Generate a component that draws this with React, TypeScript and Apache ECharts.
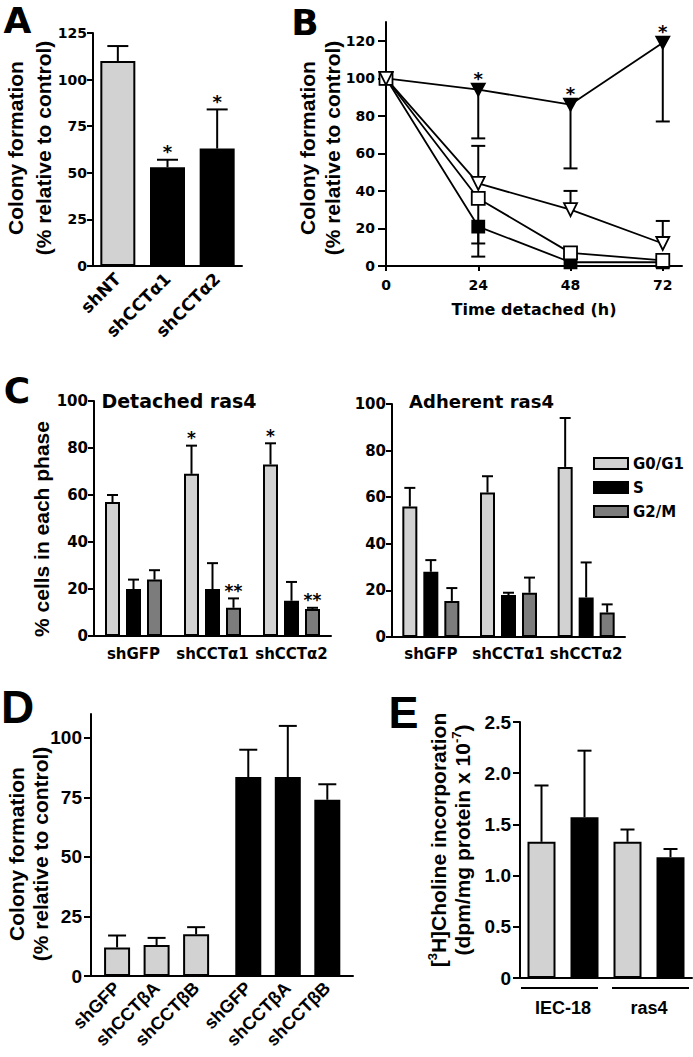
import React, { useEffect, useRef } from 'react';
import * as echarts from 'echarts';

// ---------------- Data ----------------
// Panel A
const aCategories = ['shNT', 'shCCTα1', 'shCCTα2'];
const aValues = [110, 53, 63];
const aErrHigh = [118, 57, 84];
const aIsKnockdown = [false, true, true];
const aStars = ['', '*', '*'];
const aYTicks = [0, 25, 50, 75, 100, 125];

// Panel B
const bTimes = [0, 24, 48, 72];
const bYTicks = [0, 20, 40, 60, 80, 100, 120];
const bFilledTri = [100, 94, 86, 119];
const bFilledTriErr = [null, 68, 52, 77];
const bFilledTriStars = ['', '*', '*', '*'];
const bOpenTri = [100, 44, 30, 12];
const bOpenTriErr = [null, 64, 40, 24];
const bOpenSq = [100, 36, 7, 3];
const bOpenSqErr = [null, 12, null, null];
const bFilledSq = [100, 21, 2, 2];
const bFilledSqErr = [null, 5, null, null];

// Panel C
const cCategories = ['shGFP', 'shCCTα1', 'shCCTα2'];
const cPhases = ['G0/G1', 'S', 'G2/M'];
const cYTicks = [0, 20, 40, 60, 80, 100];
const cDetG0G1 = [57, 69, 73];
const cDetG0G1Err = [60, 81, 82];
const cDetG0G1Stars = ['', '*', '*'];
const cDetS = [20, 20, 15];
const cDetSErr = [24, 31, 23];
const cDetG2M = [24, 12, 11.5];
const cDetG2MErr = [28, 16, 12];
const cDetG2MStars = ['', '**', '**'];
const cAdhG0G1 = [56, 62, 73];
const cAdhG0G1Err = [64, 69, 94];
const cAdhS = [28, 18, 17];
const cAdhSErr = [33, 19, 32];
const cAdhG2M = [15.5, 19, 10.5];
const cAdhG2MErr = [21, 25.5, 14];

// Panel D
const dCategories = ['shGFP', 'shCCTβA', 'shCCTβB', 'shGFP', 'shCCTβA', 'shCCTβB'];
const dValues = [12, 13, 17.5, 83.5, 83.5, 74];
const dErrHigh = [17, 16, 20.5, 95, 105, 80.5];
const dIsRas = [false, false, false, true, true, true];
const dYTicks = [0, 25, 50, 75, 100];

// Panel E
const eGroups = ['IEC-18', 'ras4'];
const eBars = ['IEC-18 control', 'IEC-18 knockdown', 'ras4 control', 'ras4 knockdown'];
const eValues = [1.33, 1.57, 1.33, 1.18];
const eErrHigh = [1.88, 2.22, 1.45, 1.26];
const eIsKnockdown = [false, true, false, true];
const eYTicks = [0, 0.5, 1, 1.5, 2, 2.5];

// ---------------- Styles ----------------
const FW = 'DejaVu Sans';
const FN = 'Liberation Sans';
const GRAY = '#d2d2d2';
const MID = '#7c7c7c';
const BLACK = '#000000';
const AXIS_LINE = { show: true, onZero: false, lineStyle: { color: '#000', width: 2 } };
const BAR_BORDER = { borderColor: '#000', borderWidth: 2 };
const phaseColors = [GRAY, BLACK, MID];

const D_GAP = 0.32;
const dPos = dCategories.map((_, i) => i + (dIsRas[i] ? D_GAP : 0));

const lbl = (family: string, size: number, extra: any = {}) => ({
  fontFamily: family,
  fontWeight: 'bold',
  fontSize: size,
  color: '#000',
  ...extra,
});

function errItem(stars: string[] | null, offset: number, cap: number, starSize: number) {
  return (params: any, api: any) => {
    const x = api.value(0);
    const v = api.value(1);
    const e = api.value(2);
    const p0 = api.coord([x, v]);
    const p1 = api.coord([x, e]);
    const cx = p0[0] + offset;
    const children: any[] = [
      { type: 'line', shape: { x1: cx, y1: p0[1], x2: cx, y2: p1[1] }, style: { stroke: '#000', lineWidth: 2 } },
      { type: 'line', shape: { x1: cx - cap / 2, y1: p1[1], x2: cx + cap / 2, y2: p1[1] }, style: { stroke: '#000', lineWidth: 2 } },
    ];
    const s = stars ? stars[params.dataIndex] : '';
    if (s) {
      children.push({
        type: 'text',
        x: cx,
        y: p1[1] + 1,
        style: { text: s, fontFamily: FW, fontWeight: 'bold', fontSize: starSize, fill: '#000', align: 'center', verticalAlign: 'bottom' },
      });
    }
    return { type: 'group', children };
  };
}

function errSeries(xi: number, data: any[], stars: string[] | null, offset: number, cap: number, starSize = 18) {
  return {
    type: 'custom',
    xAxisIndex: xi,
    yAxisIndex: xi,
    data,
    encode: { x: 0, y: 1 },
    clip: false,
    z: 1,
    silent: true,
    renderItem: errItem(stars, offset, cap, starSize),
  };
}

const bLine = (name: string, vals: number[], symbol: string, rotate: number, size: any, fill: string, extra: any = {}) => ({
  type: 'line',
  name,
  xAxisIndex: 1,
  yAxisIndex: 1,
  data: bTimes.map((t, i) => [t, vals[i]]),
  symbol,
  symbolRotate: rotate,
  symbolSize: size,
  showSymbol: true,
  lineStyle: { color: '#000', width: 1.8 },
  itemStyle: { color: fill, borderColor: '#000', borderWidth: 1.8 },
  z: 3,
  ...extra,
});

const bErr = (vals: number[], errs: (number | null)[]) =>
  errSeries(1, bTimes.map((t, i) => (errs[i] == null ? null : [t, vals[i], errs[i]])).filter(Boolean) as any[], null, 0, 14);

const cBars = (xi: number, sets: number[][]) =>
  sets.map((vals, k) => ({
    type: 'bar',
    name: cPhases[k],
    xAxisIndex: xi,
    yAxisIndex: xi,
    data: vals,
    barWidth: 15,
    barGap: '40%',
    itemStyle: { color: phaseColors[k], ...BAR_BORDER },
    z: 2,
  }));

const cErrs = (xi: number, sets: number[][], errs: number[][], stars: (string[] | null)[]) =>
  sets.map((vals, k) => errSeries(xi, vals.map((v, i) => [i, v, errs[k][i]]), stars[k], (k - 1) * 21, 11, 17));

const catAxis = (grid: number, data: string[], labelExtra: any = {}) => ({
  gridIndex: grid,
  type: 'category',
  data,
  axisLine: AXIS_LINE,
  axisTick: { show: false },
  axisLabel: { interval: 0, ...labelExtra },
  splitLine: { show: false },
});

const valAxis = (grid: number, min: number, max: number, ticks: number[], tickLen: number, margin: number, label: any, fmt?: (v: number) => string) => ({
  gridIndex: grid,
  type: 'value',
  min,
  max,
  axisLine: AXIS_LINE,
  axisTick: { show: true, customValues: ticks, length: tickLen, lineStyle: { color: '#000', width: 2 } },
  axisLabel: { customValues: ticks, margin, ...label, ...(fmt ? { formatter: fmt } : {}) },
  splitLine: { show: false },
});

const rotText = (x: number, y: number, text: string, lineHeight: number, extra: any = {}) => ({
  type: 'text',
  x,
  y,
  rotation: Math.PI / 2,
  style: { text, fontFamily: FN, fontWeight: 'bold', fontSize: 21, lineHeight, fill: '#000', align: 'center', verticalAlign: 'middle', ...extra },
});

const plainText = (x: number, y: number, text: string, family: string, size: number) => ({
  type: 'text',
  x,
  y,
  style: { text, fontFamily: family, fontWeight: 'bold', fontSize: size, fill: '#000', align: 'center', verticalAlign: 'middle' },
});

const option: any = {
  animation: false,
  backgroundColor: '#fff',
  grid: [
    { left: 93, top: 33, width: 149, height: 233 },
    { left: 386, top: 22, width: 296, height: 244 },
    { left: 94, top: 401, width: 237, height: 235 },
    { left: 392, top: 404, width: 233, height: 233 },
    { left: 91, top: 714, width: 262, height: 262 },
    { left: 520, top: 722, width: 172, height: 256 },
    { left: 520, top: 722, width: 172, height: 256 },
  ],
  xAxis: [
    catAxis(0, aCategories, { rotate: 45, margin: 10, ...lbl(FW, 17) }),
    {
      gridIndex: 1,
      type: 'value',
      min: 0,
      max: 77,
      axisLine: AXIS_LINE,
      axisTick: { show: true, customValues: bTimes, length: 5, lineStyle: { color: '#000', width: 2 } },
      axisLabel: { customValues: bTimes, margin: 12, ...lbl(FW, 14) },
      splitLine: { show: false },
      name: 'Time detached (h)',
      nameLocation: 'middle',
      nameGap: 35,
      nameTextStyle: lbl(FW, 16),
    },
    catAxis(2, cCategories, { margin: 10, ...lbl(FW, 15) }),
    catAxis(3, cCategories, { margin: 9, ...lbl(FW, 15) }),
    {
      gridIndex: 4,
      type: 'value',
      min: -0.66,
      max: 5.97,
      axisLine: AXIS_LINE,
      axisTick: { show: false },
      axisLabel: {
        customValues: dPos,
        rotate: 45,
        margin: 9,
        ...lbl(FN, 18),
        formatter: (v: number) => {
          const i = dPos.findIndex((p) => Math.abs(p - v) < 1e-6);
          return i >= 0 ? dCategories[i] : '';
        },
      },
      splitLine: { show: false },
    },
    catAxis(5, eBars, { show: false }),
    {
      gridIndex: 6,
      type: 'category',
      data: eGroups,
      axisLine: { show: false },
      axisTick: { show: false },
      axisLabel: { interval: 0, margin: 21, ...lbl(FN, 18) },
      splitLine: { show: false },
    },
  ],
  yAxis: [
    valAxis(0, 0, 125, aYTicks, 6, 6, lbl(FW, 14)),
    valAxis(1, 0, 130, bYTicks, 8, 11, lbl(FW, 14)),
    valAxis(2, 0, 100, cYTicks, 6, 6, lbl(FW, 15)),
    valAxis(3, 0, 100, cYTicks, 6, 6, lbl(FW, 15)),
    valAxis(4, 0, 110, dYTicks, 7, 9, lbl(FN, 19)),
    valAxis(5, 0, 2.5, eYTicks, 7, 9, lbl(FN, 19), (v: number) => (v === 0 ? '0' : v.toFixed(1))),
    { gridIndex: 6, type: 'value', show: false, min: 0, max: 1 },
  ],
  legend: {
    data: cPhases,
    orient: 'vertical',
    left: 593,
    top: 456,
    itemWidth: 34,
    itemHeight: 11,
    itemGap: 9,
    icon: 'rect',
    padding: 0,
    selectedMode: false,
    textStyle: lbl(FW, 15),
  },
  graphic: [
    // panel letters
    plainText(17.5, 20.5, 'A', FW, 36),
    plainText(305, 22.5, 'B', FW, 36),
    plainText(17, 390, 'C', FW, 36),
    plainText(17.5, 707, 'D', FN, 46),
    plainText(403.5, 712.5, 'E', FN, 45),
    // titles
    plainText(179, 400.5, 'Detached ras4', FW, 19),
    plainText(481.5, 401.5, 'Adherent ras4', FW, 18),
    // y-axis titles
    rotText(29, 148, 'Colony formation\n(% relative to control)', 28),
    rotText(319.5, 148, 'Colony formation\n(% relative to control)', 25),
    rotText(41, 529, '% cells in each phase', 24),
    rotText(28, 854, 'Colony formation\n(% relative to control)', 24),
    rotText(450, 840, '[{sup|3}H]Choline incorporation\n(dpm/mg protein x 10{sup|-7})', 24, {
      rich: { sup: { fontFamily: FN, fontWeight: 'bold', fontSize: 13, lineHeight: 24, verticalAlign: 'top', fill: '#000' } },
    }),
    // group brackets under E
    { type: 'line', shape: { x1: 521, y1: 988, x2: 598, y2: 988 }, style: { stroke: '#000', lineWidth: 2 } },
    { type: 'line', shape: { x1: 612, y1: 988, x2: 689, y2: 988 }, style: { stroke: '#000', lineWidth: 2 } },
  ],
  series: [
    // A
    {
      type: 'bar',
      xAxisIndex: 0,
      yAxisIndex: 0,
      barWidth: 35,
      data: aValues.map((v, i) => ({ value: v, itemStyle: { color: aIsKnockdown[i] ? BLACK : GRAY, ...BAR_BORDER } })),
      z: 2,
    },
    errSeries(0, aValues.map((v, i) => [i, v, aErrHigh[i]]), aStars, 0, 21),
    // B
    bErr(bFilledSq, bFilledSqErr),
    bErr(bOpenSq, bOpenSqErr),
    bErr(bFilledTri, bFilledTriErr),
    bErr(bOpenTri, bOpenTriErr),
    bLine('filledSq', bFilledSq, 'rect', 0, 12, BLACK),
    bLine('filledTri', bFilledTri, 'triangle', 180, [13, 12], BLACK, {
      label: {
        show: true,
        position: 'top',
        distance: 0,
        offset: [0, 5],
        formatter: (p: any) => bFilledTriStars[p.dataIndex],
        fontFamily: FW,
        fontWeight: 'bold',
        fontSize: 18,
        color: '#000',
      },
    }),
    bLine('openSq', bOpenSq, 'rect', 0, 13, '#fff'),
    bLine('openTri', bOpenTri, 'triangle', 180, [13, 13], '#fff'),
    // C detached
    ...cBars(2, [cDetG0G1, cDetS, cDetG2M]),
    ...cErrs(2, [cDetG0G1, cDetS, cDetG2M], [cDetG0G1Err, cDetSErr, cDetG2MErr], [cDetG0G1Stars, null, cDetG2MStars]),
    // C adherent
    ...cBars(3, [cAdhG0G1, cAdhS, cAdhG2M]),
    ...cErrs(3, [cAdhG0G1, cAdhS, cAdhG2M], [cAdhG0G1Err, cAdhSErr, cAdhG2MErr], [null, null, null]),
    // D
    {
      type: 'bar',
      xAxisIndex: 4,
      yAxisIndex: 4,
      barWidth: 26,
      data: dPos.map((p, i) => ({ value: [p, dValues[i]], itemStyle: { color: dIsRas[i] ? BLACK : GRAY, ...BAR_BORDER } })),
      z: 2,
    },
    errSeries(4, dPos.map((p, i) => [p, dValues[i], dErrHigh[i]]), null, 0, 18),
    // E
    {
      type: 'bar',
      xAxisIndex: 5,
      yAxisIndex: 5,
      barWidth: 28,
      data: eValues.map((v, i) => ({ value: v, itemStyle: { color: eIsKnockdown[i] ? BLACK : GRAY, ...BAR_BORDER } })),
      z: 2,
    },
    errSeries(5, eValues.map((v, i) => [i, v, eErrHigh[i]]), null, 0, 14),
  ],
};

export default function App() {
  const ref = useRef<HTMLDivElement>(null);
  useEffect(() => {
    document.body.style.margin = '0';
    const chart = echarts.init(ref.current as HTMLDivElement, null, { renderer: 'svg' });
    chart.setOption(option);
    return () => chart.dispose();
  }, []);
  return <div ref={ref} style={{ width: 693, height: 1057, background: '#fff' }} />;
}
